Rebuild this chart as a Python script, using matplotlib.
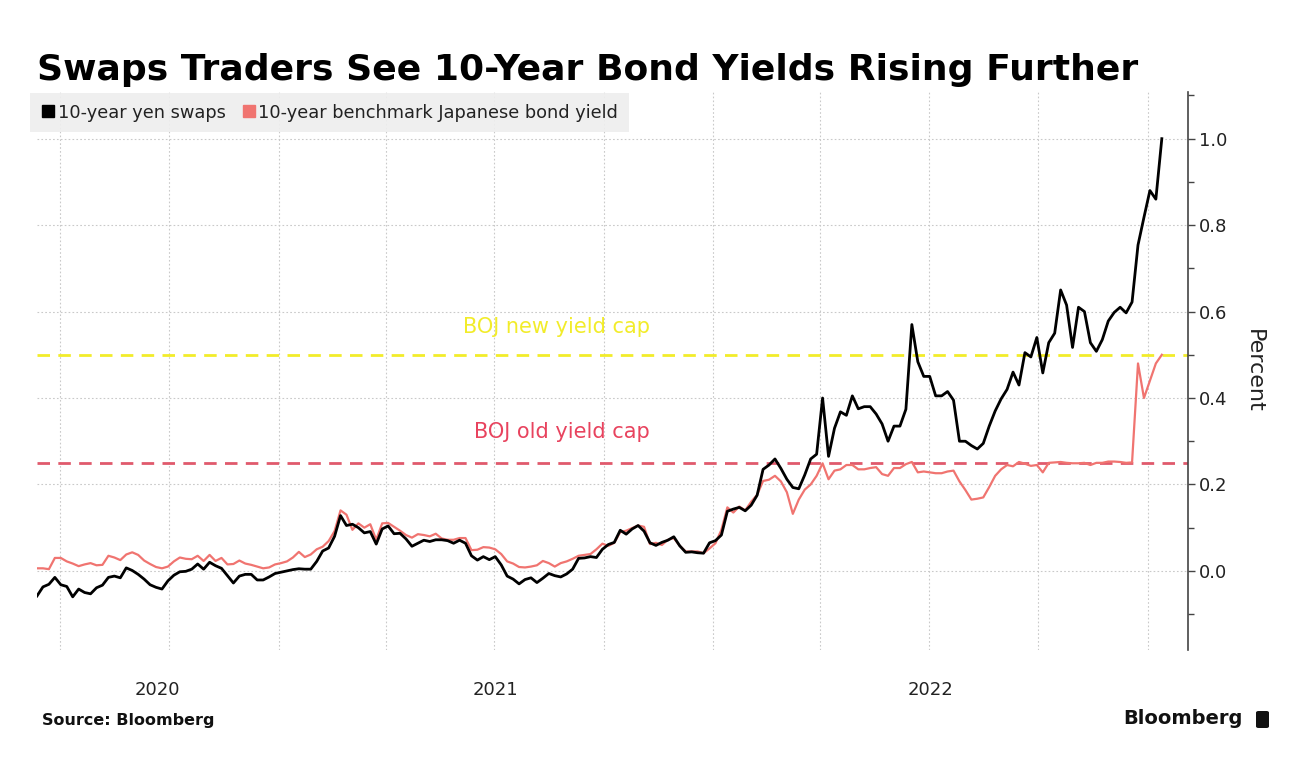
import numpy as np
import pandas as pd
import matplotlib
matplotlib.use("Agg")
import matplotlib.pyplot as plt
import matplotlib.dates as mdates
import matplotlib.transforms as mtransforms
from matplotlib.lines import Line2D
from matplotlib.patches import FancyBboxPatch
from matplotlib.ticker import MultipleLocator, FixedLocator, FixedFormatter, NullFormatter

plt.rcParams["font.family"] = ["DejaVu Sans"]

# readings every 5 calendar days, starting 2020-06-12
start_date = "2020-06-12"
step = "5D"

yen_swaps = [
    -0.058, -0.037, -0.031, -0.015, -0.032, -0.036, -0.060, -0.042, -0.050, -0.053,
    -0.039, -0.033, -0.015, -0.012, -0.016, 0.007, 0.001, -0.008, -0.019, -0.032,
    -0.038, -0.042, -0.023, -0.010, -0.002, -0.001, 0.004, 0.016, 0.004, 0.020,
    0.012, 0.006, -0.011, -0.028, -0.012, -0.008, -0.008, -0.021, -0.021, -0.014,
    -0.006, -0.003, 0.000, 0.003, 0.005, 0.004, 0.004, 0.022, 0.046, 0.053,
    0.080, 0.128, 0.105, 0.108, 0.100, 0.088, 0.091, 0.062, 0.097, 0.104,
    0.086, 0.087, 0.074, 0.057, 0.064, 0.071, 0.068, 0.072, 0.072, 0.070,
    0.064, 0.071, 0.064, 0.035, 0.025, 0.033, 0.026, 0.033, 0.014, -0.012,
    -0.019, -0.030, -0.020, -0.016, -0.027, -0.017, -0.006, -0.011, -0.014, -0.007,
    0.004, 0.029, 0.030, 0.033, 0.031, 0.050, 0.061, 0.066, 0.094, 0.085,
    0.097, 0.105, 0.092, 0.065, 0.059, 0.066, 0.071, 0.079, 0.058, 0.043,
    0.044, 0.042, 0.041, 0.065, 0.070, 0.083, 0.138, 0.143, 0.147, 0.139,
    0.152, 0.175, 0.235, 0.245, 0.259, 0.237, 0.212, 0.193, 0.190, 0.222,
    0.259, 0.270, 0.400, 0.265, 0.330, 0.368, 0.360, 0.405, 0.375, 0.380,
    0.380, 0.363, 0.340, 0.300, 0.335, 0.335, 0.374, 0.570, 0.484, 0.450,
    0.450, 0.405, 0.405, 0.415, 0.395, 0.300, 0.300, 0.290, 0.282, 0.295,
    0.335, 0.370, 0.398, 0.420, 0.460, 0.430, 0.505, 0.495, 0.540, 0.458,
    0.528, 0.550, 0.650, 0.615, 0.517, 0.610, 0.600, 0.528, 0.508, 0.535,
    0.578, 0.598, 0.610, 0.597, 0.622, 0.754, 0.818, 0.880, 0.860, 1.000,
]

jgb_yield = [
    0.006, 0.006, 0.004, 0.030, 0.030, 0.022, 0.017, 0.011, 0.015, 0.018,
    0.013, 0.014, 0.035, 0.031, 0.025, 0.038, 0.043, 0.037, 0.024, 0.016,
    0.009, 0.006, 0.010, 0.022, 0.031, 0.028, 0.027, 0.035, 0.023, 0.037,
    0.023, 0.030, 0.015, 0.016, 0.024, 0.017, 0.014, 0.010, 0.006, 0.008,
    0.015, 0.018, 0.022, 0.031, 0.044, 0.032, 0.038, 0.050, 0.056, 0.069,
    0.092, 0.140, 0.130, 0.095, 0.110, 0.100, 0.108, 0.072, 0.110, 0.111,
    0.102, 0.093, 0.083, 0.077, 0.085, 0.083, 0.080, 0.086, 0.075, 0.072,
    0.072, 0.076, 0.076, 0.048, 0.049, 0.055, 0.054, 0.050, 0.039, 0.022,
    0.017, 0.009, 0.008, 0.010, 0.013, 0.023, 0.018, 0.010, 0.018, 0.022,
    0.028, 0.035, 0.037, 0.039, 0.050, 0.063, 0.058, 0.065, 0.090, 0.093,
    0.099, 0.105, 0.102, 0.062, 0.065, 0.060, 0.072, 0.076, 0.058, 0.045,
    0.045, 0.045, 0.041, 0.052, 0.064, 0.095, 0.147, 0.135, 0.149, 0.140,
    0.160, 0.176, 0.208, 0.211, 0.220, 0.207, 0.182, 0.132, 0.165, 0.188,
    0.200, 0.220, 0.249, 0.212, 0.232, 0.235, 0.245, 0.245, 0.235, 0.235,
    0.238, 0.240, 0.224, 0.220, 0.238, 0.238, 0.247, 0.252, 0.228, 0.230,
    0.228, 0.226, 0.226, 0.230, 0.232, 0.207, 0.187, 0.165, 0.167, 0.170,
    0.194, 0.220, 0.235, 0.245, 0.242, 0.252, 0.248, 0.243, 0.245, 0.228,
    0.250, 0.251, 0.252, 0.250, 0.249, 0.249, 0.250, 0.245, 0.250, 0.250,
    0.253, 0.253, 0.252, 0.250, 0.251, 0.480, 0.400, 0.440, 0.480, 0.500,
]

old_cap = 0.25
new_cap = 0.50

x_start = "2020-06-12"
x_end = "2023-02-04"
year_labels = [2020, 2021, 2022]

BLACK = "#000000"
SALMON = "#f07470"
YELLOW = "#f2ec2a"
CAP_RED = "#e05a6c"
CAP_TEXT_RED = "#e8435e"
GRID = "#c9c9c9"

W, H = 1306, 780
fig = plt.figure(figsize=(W / 100, H / 100), dpi=100)
fig.patch.set_facecolor("white")

ax = fig.add_axes([37 / W, 1 - 650 / H, (1188 - 37) / W, (650 - 92) / H])

swap_dates = pd.date_range(start_date, periods=len(yen_swaps), freq=step)
jgb_dates = pd.date_range(start_date, periods=len(jgb_yield), freq=step)

# yield caps
ax.axhline(new_cap, color=YELLOW, lw=2, dashes=(4.5, 3), zorder=2)
ax.axhline(old_cap, color=CAP_RED, lw=2, dashes=(4.5, 3), zorder=2)

ax.plot(jgb_dates, jgb_yield, color=SALMON, lw=1.6, zorder=3)
ax.plot(swap_dates, yen_swaps, color=BLACK, lw=2.0, zorder=4)

blend = mtransforms.blended_transform_factory(ax.transAxes, ax.transData)
ax.text(0.451, new_cap + 0.065, "BOJ new yield cap", color=YELLOW,
        fontsize=15, ha="center", va="center", transform=blend)
ax.text(0.456, old_cap + 0.072, "BOJ old yield cap", color=CAP_TEXT_RED,
        fontsize=15, ha="center", va="center", transform=blend)

# axes limits
x0 = pd.Timestamp(x_start)
x1 = pd.Timestamp(x_end)
ax.set_xlim(x0, x1)
ax.set_ylim(-0.183, 1.108)

# y axis on the right
ax.yaxis.tick_right()
ax.yaxis.set_label_position("right")
ax.yaxis.set_major_locator(MultipleLocator(0.2))
ax.yaxis.set_minor_locator(MultipleLocator(0.1))
ax.yaxis.set_major_formatter(lambda v, p: f"{abs(v):.1f}" if abs(v) < 1e-9 else f"{v:.1f}")
ax.tick_params(axis="y", which="major", length=5, width=1, color="#444444",
               labelsize=13, pad=3, labelcolor="#222222")
ax.tick_params(axis="y", which="minor", length=4, width=1, color="#444444")
ax.set_ylabel("Percent", fontsize=16, rotation=270, labelpad=26, color="#222222")

# x axis: quarterly gridlines, year labels centred on the visible part of each year
ax.xaxis.set_major_locator(mdates.MonthLocator(bymonth=[1, 4, 7, 10]))
ax.xaxis.set_major_formatter(NullFormatter())
centers = []
for yr in year_labels:
    a = max(x0, pd.Timestamp(f"{yr}-01-01"))
    b = min(x1, pd.Timestamp(f"{yr + 1}-01-01"))
    centers.append(mdates.date2num(a + (b - a) / 2))
ax.xaxis.set_minor_locator(FixedLocator(centers))
ax.xaxis.set_minor_formatter(FixedFormatter([str(y) for y in year_labels]))
ax.tick_params(axis="x", which="both", length=0)
ax.tick_params(axis="x", which="minor", labelsize=13, pad=22, labelcolor="#222222")

ax.grid(axis="x", which="major", ls=(0, (1.5, 2)), color=GRID, lw=0.8)
ax.grid(axis="y", which="major", ls=(0, (1.5, 2)), color=GRID, lw=0.8)

for side in ["left", "top", "bottom"]:
    ax.spines[side].set_visible(False)
ax.spines["right"].set_color("#444444")
ax.spines["right"].set_linewidth(1.2)

# legend
handles = [
    Line2D([], [], marker="s", ls="none", color=BLACK, markersize=9),
    Line2D([], [], marker="s", ls="none", color=SALMON, markersize=9),
]
leg = ax.legend(handles, ["10-year yen swaps", "10-year benchmark Japanese bond yield"],
                ncol=2, loc="upper left", bbox_to_anchor=(30 / W, 1 - 93 / H),
                bbox_transform=fig.transFigure, frameon=True, fancybox=False,
                borderaxespad=0, borderpad=0.6, handletextpad=0.15,
                columnspacing=0.9, handlelength=0.8, fontsize=12.8,
                labelcolor="#222222")
leg.get_frame().set_facecolor("#eeeeee")
leg.get_frame().set_edgecolor("none")
leg.get_frame().set_alpha(0.9)

# title and footer
fig.text(37 / W, 1 - 80 / H, "Swaps Traders See 10-Year Bond Yields Rising Further",
         fontsize=26, fontweight="bold", ha="left", va="baseline", color="#000000")
fig.text(42 / W, 1 - 720 / H, "Source: Bloomberg", fontsize=11.5,
         fontweight="bold", ha="left", va="center", color="#111111")
fig.text(1243 / W, 1 - 719 / H, "Bloomberg", fontsize=14,
         fontweight="bold", ha="right", va="center", color="#111111")
icon = FancyBboxPatch((1256 / W, 1 - 728 / H), 13 / W, 17 / H,
                      boxstyle="round,pad=0,rounding_size=0.002",
                      transform=fig.transFigure, facecolor="#111111",
                      edgecolor="none")
fig.patches.append(icon)

fig.savefig("out.png", dpi=100, facecolor="white")
